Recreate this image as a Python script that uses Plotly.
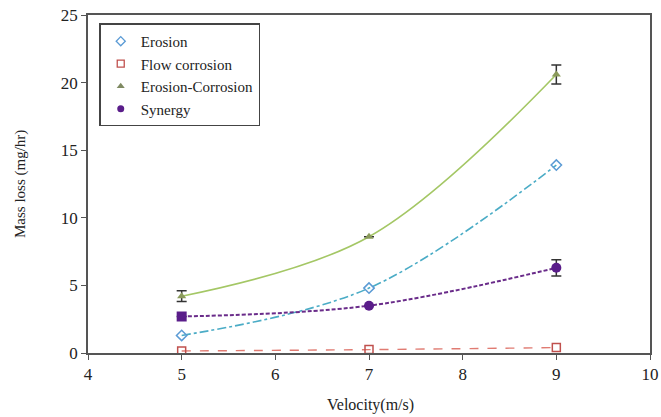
import plotly.graph_objects as go

velocity = [5, 7, 9]
erosion = [1.3, 4.8, 13.9]
flow_corrosion = [0.15, 0.25, 0.4]
erosion_corrosion = [4.2, 8.6, 20.6]
erosion_corrosion_err = [0.4, 0.0, 0.7]
synergy = [2.7, 3.5, 6.3]
synergy_err = [0.0, 0.0, 0.6]
synergy_symbols = ["square", "circle", "circle"]

x_ticks = [4, 5, 6, 7, 8, 9, 10]
y_ticks = [0, 5, 10, 15, 20, 25]

font_family = "Liberation Serif"

series = [
    dict(name="Erosion", y=erosion, err=None,
         line=dict(color="#4bacc6", dash="dashdot", width=1.6, shape="spline"),
         marker=dict(symbol="diamond-open", size=8, color="#5b9bd5", line=dict(width=1.5)),
         legend_marker=dict(symbol="diamond-open", size=7, color="#5b9bd5", line=dict(width=1.3))),
    dict(name="Flow corrosion", y=flow_corrosion, err=None,
         line=dict(color="#e07b72", dash="dash", width=1.4, shape="spline"),
         marker=dict(symbol="square-open", size=8, color="#c0504d", line=dict(width=1.5)),
         legend_marker=dict(symbol="square-open", size=7, color="#c0504d", line=dict(width=1.3))),
    dict(name="Erosion-Corrosion", y=erosion_corrosion, err=erosion_corrosion_err,
         line=dict(color="#a4c765", width=1.6, shape="spline"),
         marker=dict(symbol="triangle-up", size=8, color="#8a9a5b"),
         legend_marker=dict(symbol="triangle-up", size=7, color="#7f8a62")),
    dict(name="Synergy", y=synergy, err=synergy_err,
         line=dict(color="#6a2c8a", dash="4px,2px", width=2, shape="spline"),
         marker=dict(symbol=synergy_symbols, size=10, color="#5a1d8a"),
         legend_marker=dict(symbol="circle", size=7, color="#5a1d8a")),
]

fig = go.Figure()
for s in series:
    err = None
    if s["err"] is not None:
        err = dict(type="data", array=s["err"], color="#333333", thickness=1.5, width=5)
    fig.add_trace(go.Scatter(
        x=velocity, y=s["y"], name=s["name"], mode="lines+markers",
        line=s["line"], marker=s["marker"], error_y=err, showlegend=False,
    ))
for s in series:
    fig.add_trace(go.Scatter(
        x=[None], y=[None], name=s["name"], mode="markers",
        marker=s["legend_marker"], showlegend=True,
    ))

fig.update_layout(
    width=661, height=417,
    margin=dict(l=88, r=11, t=15, b=64),
    paper_bgcolor="white", plot_bgcolor="white",
    font=dict(family=font_family, size=16, color="#222222"),
    legend=dict(
        x=0.02, y=0.975, xanchor="left", yanchor="top",
        bgcolor="white", bordercolor="#444444", borderwidth=1.5,
        font=dict(family=font_family, size=15, color="#222222"),
        itemwidth=30, tracegroupgap=0,
    ),
    annotations=[
        dict(text="Velocity(m/s)", xref="paper", yref="paper", x=0.502, y=0,
             xanchor="center", yanchor="middle", yshift=-52, showarrow=False,
             font=dict(family=font_family, size=16, color="#222222")),
        dict(text="Mass loss (mg/hr)", xref="paper", yref="paper", x=-0.121, y=0.5,
             xanchor="center", yanchor="middle", textangle=-90, showarrow=False,
             font=dict(family=font_family, size=15, color="#222222")),
    ],
)
fig.update_xaxes(
    range=[4, 10], tickvals=x_ticks, showgrid=False, zeroline=False, automargin=False,
    showline=True, linecolor="#555555", linewidth=1.5, mirror=True,
    ticks="outside", ticklen=5, tickcolor="#555555", ticklabeloverflow="allow",
    tickfont=dict(family=font_family, size=17, color="#222222"),
)
fig.update_yaxes(
    range=[0, 25], tickvals=y_ticks, showgrid=False, zeroline=False, automargin=False,
    showline=True, linecolor="#555555", linewidth=1.5, mirror=True,
    ticks="outside", ticklen=5, tickcolor="#555555", ticklabeloverflow="allow",
    tickfont=dict(family=font_family, size=17, color="#222222"),
)

# remove the default 8px page margin so the 661x417 figure fills the window
fig.write_html("out.html", config={"displayModeBar": False},
               post_script="document.body.style.margin='0';")
